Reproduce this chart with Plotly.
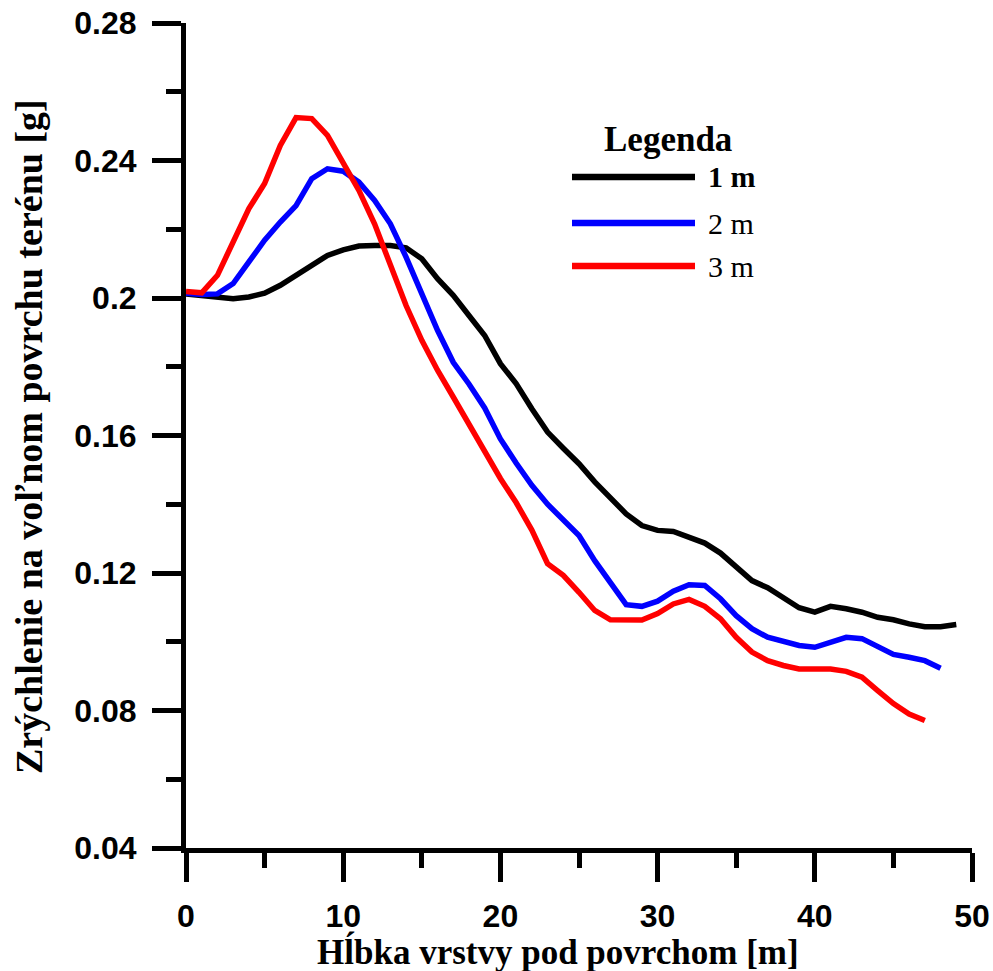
import plotly.graph_objects as go

# ---------------- data ----------------
depth_1m = list(range(0, 50))
acc_1m = [0.2012, 0.2008, 0.2003, 0.1998, 0.2003, 0.2014, 0.2037, 0.2066, 0.2092, 0.2124,
          0.2140, 0.2151, 0.2153, 0.2153, 0.2146, 0.2114, 0.2056, 0.2008, 0.1949, 0.1891,
          0.1809, 0.1751, 0.1678, 0.1610, 0.1563, 0.1518, 0.1465, 0.1421, 0.1372, 0.1338,
          0.1324, 0.1321, 0.1304, 0.1287, 0.1258, 0.1219, 0.1178, 0.1157, 0.1130, 0.1099,
          0.1086, 0.1103, 0.1096, 0.1086, 0.1071, 0.1064, 0.1052, 0.1044, 0.1044, 0.1050]

depth_2m = list(range(0, 49))
acc_2m = [0.2014, 0.2010, 0.2012, 0.2042, 0.2105, 0.2168, 0.2221, 0.2269, 0.2347, 0.2376,
          0.2369, 0.2337, 0.2284, 0.2216, 0.2119, 0.2013, 0.1906, 0.1813, 0.1750, 0.1680,
          0.1590, 0.1520, 0.1455, 0.1400, 0.1353, 0.1309, 0.1236, 0.1173, 0.1108, 0.1103,
          0.1118, 0.1147, 0.1166, 0.1164, 0.1125, 0.1076, 0.1038, 0.1013, 0.0999, 0.0989,
          0.0984, 0.0999, 0.1013, 0.1009, 0.0984, 0.0963, 0.0955, 0.0945, 0.0923]

depth_3m = list(range(0, 48))
acc_3m = [0.2019, 0.2015, 0.2066, 0.2167, 0.2260, 0.2333, 0.2444, 0.2525, 0.2522, 0.2473,
          0.2391, 0.2313, 0.2215, 0.2095, 0.1978, 0.1877, 0.1790, 0.1712, 0.1632, 0.1550,
          0.1475, 0.1405, 0.1325, 0.1227, 0.1193, 0.1144, 0.1091, 0.1064, 0.1062, 0.1063,
          0.1082, 0.1110, 0.1123, 0.1103, 0.1067, 0.1013, 0.0970, 0.0945, 0.0931, 0.0921,
          0.0921, 0.0921, 0.0914, 0.0897, 0.0858, 0.0820, 0.0790, 0.0771]

series_names = ["1 m", "2 m", "3 m"]
series_colors = ["#000000", "#0000FF", "#FF0000"]

x_tickvals = [0, 10, 20, 30, 40, 50]
x_ticktext = ["0", "10", "20", "30", "40", "50"]
y_tickvals = [0.04, 0.08, 0.12, 0.16, 0.20, 0.24, 0.28]
y_ticktext = ["0.04", "0.08", "0.12", "0.16", "0.2", "0.24", "0.28"]

x_title = "Hĺbka vrstvy pod povrchom [m]"
y_title = "Zrýchlenie na voľnom povrchu terénu [g]"
legend_title = "Legenda"

# ---------------- figure ----------------
W, H = 993, 971
L, R, T, B = 186, 21, 23, 123
pw, ph = W - L - R, H - T - B

def px_x(p):
    return (p - L) / pw

def px_y(p):
    return 1 - (p - T) / ph

fig = go.Figure()
for xs, ys, name, col in zip([depth_1m, depth_2m, depth_3m], [acc_1m, acc_2m, acc_3m],
                             series_names, series_colors):
    fig.add_trace(go.Scatter(x=xs, y=ys, mode="lines", name=name,
                             line=dict(color=col, width=5.5), showlegend=False))

serif = "Liberation Serif, Times New Roman, serif"
sans = "Liberation Sans, Arial, sans-serif"

axis_common = dict(
    showline=True, linecolor="black", linewidth=5,
    ticks="outside", ticklen=29, tickwidth=5, tickcolor="black",
    showgrid=False, zeroline=False,
    tickfont=dict(family=sans, size=32, color="black", weight="bold"),
    mirror=False,
)

fig.update_xaxes(range=[0, 50], tickvals=x_tickvals, ticktext=x_ticktext,
                 ticklabelstandoff=7,
                 minor=dict(dtick=5, tick0=0, ticks="outside", ticklen=15, tickwidth=5,
                            tickcolor="black"),
                 **axis_common)
fig.update_yaxes(range=[0.04, 0.28], tickvals=y_tickvals, ticktext=y_ticktext,
                 ticklabelstandoff=9,
                 minor=dict(dtick=0.02, tick0=0.04, ticks="outside", ticklen=15, tickwidth=5,
                            tickcolor="black"),
                 **axis_common)

annotations = [
    dict(text=f"<b>{x_title}</b>", xref="paper", yref="paper",
         x=px_x(557.5), y=px_y(952), xanchor="center", yanchor="middle",
         showarrow=False, font=dict(family=serif, size=35, color="black")),
    dict(text=f"<b>{y_title}</b>", xref="paper", yref="paper",
         x=px_x(29), y=px_y(437), xanchor="center", yanchor="middle", textangle=-90,
         showarrow=False, font=dict(family=serif, size=38, color="black")),
    dict(text=f"<b>{legend_title}</b>", xref="paper", yref="paper",
         x=px_x(667.5), y=px_y(139), xanchor="center", yanchor="middle",
         showarrow=False, font=dict(family=serif, size=35, color="black")),
]

legend_y = [177, 223, 266]
shapes = []
for i, (name, col) in enumerate(zip(series_names, series_colors)):
    yy = px_y(legend_y[i])
    shapes.append(dict(type="line", xref="paper", yref="paper",
                       x0=px_x(572), x1=px_x(695), y0=yy, y1=yy,
                       line=dict(color=col, width=6.5)))
    label = f"<b>{name}</b>" if i == 0 else name
    annotations.append(dict(text=label, xref="paper", yref="paper",
                            x=px_x(706), y=yy, xanchor="left", yanchor="middle",
                            showarrow=False, font=dict(family=serif, size=30, color="black")))

fig.update_layout(
    width=W, height=H,
    margin=dict(l=L, r=R, t=T, b=B, autoexpand=False),
    paper_bgcolor="white", plot_bgcolor="white",
    annotations=annotations, shapes=shapes,
    showlegend=False,
)

fig.write_html("out.html", config={"displayModeBar": False},
               post_script="document.body.style.margin='0';document.body.style.padding='0';")
